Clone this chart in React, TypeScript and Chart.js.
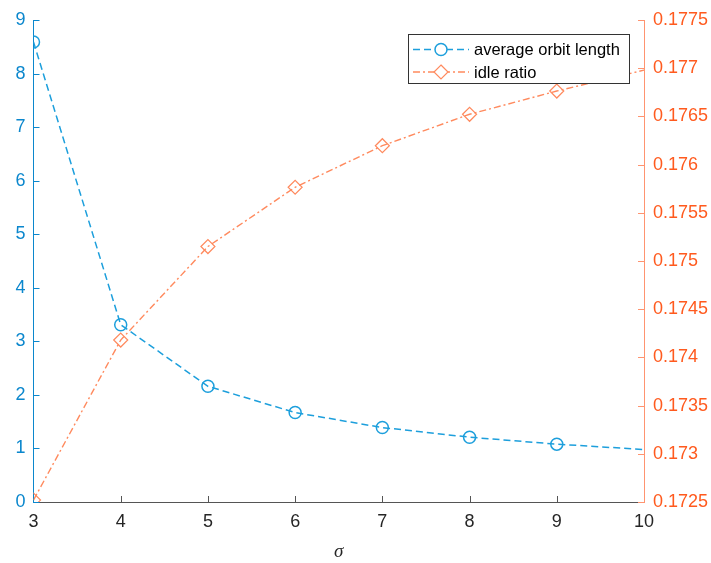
import React, { useEffect, useRef } from "react";
import { Chart, registerables } from "chart.js";

Chart.register(...registerables);

const sigmaValues = [3, 4, 5, 6, 7, 8, 9, 11];
const avgOrbitLength = [8.59, 3.31, 2.16, 1.67, 1.39, 1.21, 1.08, 0.88];
const idleRatio = [0.17252, 0.17418, 0.17515, 0.175765, 0.176196, 0.176522, 0.176763, 0.177197];
const leftTicks = [0, 1, 2, 3, 4, 5, 6, 7, 8, 9];
const rightTicks = [0.1725, 0.173, 0.1735, 0.174, 0.1745, 0.175, 0.1755, 0.176, 0.1765, 0.177, 0.1775];
const xTicks = [3, 4, 5, 6, 7, 8, 9, 10];
const seriesNames = ["average orbit length", "idle ratio"];
const xTitle = "σ";

const BLUE_AXIS = "#0b87cd";
const BLUE_LINE = "#1d9fdc";
const ORANGE_TEXT = "#ff5a1e";
const ORANGE_AXIS = "#ff9470";
const ORANGE_LINE = "#ff8a5e";
const FONT = "'Liberation Sans', Arial, Helvetica, sans-serif";

const innerTicks = {
  id: "innerTicks",
  afterDatasetsDraw(chart: any) {
    const { ctx, chartArea } = chart;
    const sx = chart.scales.x;
    const sy = chart.scales.y;
    const sy1 = chart.scales.y1;
    const L = 6;
    ctx.save();
    ctx.lineWidth = 1;
    ctx.strokeStyle = BLUE_AXIS;
    sy.ticks.forEach((t: any) => {
      const y = Math.round(sy.getPixelForValue(t.value)) + 0.5;
      ctx.beginPath();
      ctx.moveTo(chartArea.left, y);
      ctx.lineTo(chartArea.left + L, y);
      ctx.stroke();
    });
    ctx.strokeStyle = ORANGE_AXIS;
    sy1.ticks.forEach((t: any) => {
      const y = Math.round(sy1.getPixelForValue(t.value)) + 0.5;
      ctx.beginPath();
      ctx.moveTo(chartArea.right - L, y);
      ctx.lineTo(chartArea.right, y);
      ctx.stroke();
    });
    ctx.strokeStyle = "#555555";
    sx.ticks.forEach((t: any) => {
      const x = Math.round(sx.getPixelForValue(t.value)) + 0.5;
      if (x < chartArea.left + 2 || x > chartArea.right - 2) return;
      ctx.beginPath();
      ctx.moveTo(x, chartArea.bottom);
      ctx.lineTo(x, chartArea.bottom - L);
      ctx.stroke();
    });
    ctx.restore();
  },
};

const customLegend = {
  id: "customLegend",
  afterDraw(chart: any) {
    const { ctx } = chart;
    const bx = 408.5, by = 34.5, bw = 221, bh = 49;
    ctx.save();
    ctx.fillStyle = "#ffffff";
    ctx.fillRect(bx, by, bw, bh);
    ctx.strokeStyle = "#333333";
    ctx.lineWidth = 1;
    ctx.strokeRect(bx, by, bw, bh);
    const rows = [49.5, 72];
    chart.data.datasets.forEach((ds: any, i: number) => {
      const y = rows[i];
      ctx.strokeStyle = ds.borderColor;
      ctx.lineWidth = ds.borderWidth;
      ctx.setLineDash(ds.borderDash);
      ctx.beginPath();
      ctx.moveTo(413, y);
      ctx.lineTo(469, y);
      ctx.stroke();
      ctx.setLineDash([]);
      ctx.fillStyle = "#ffffff";
      ctx.strokeStyle = ds.pointBorderColor;
      ctx.lineWidth = ds.pointBorderWidth;
      ctx.beginPath();
      if (ds.pointStyle === "circle") {
        ctx.arc(441, y, ds.pointRadius, 0, Math.PI * 2);
      } else {
        const r = ds.pointRadius;
        ctx.moveTo(441, y - r);
        ctx.lineTo(441 + r, y);
        ctx.lineTo(441, y + r);
        ctx.lineTo(441 - r, y);
        ctx.closePath();
      }
      ctx.fill();
      ctx.stroke();
      ctx.fillStyle = "#000000";
      ctx.font = `16.5px ${FONT}`;
      ctx.textBaseline = "middle";
      ctx.textAlign = "left";
      ctx.fillText(ds.label, 474, y + 1);
    });
    ctx.restore();
  },
};

export default function App() {
  const ref = useRef<HTMLCanvasElement | null>(null);
  useEffect(() => {
    if (!ref.current) return;
    const chart = new Chart(ref.current, {
      type: "line",
      data: {
        datasets: [
          {
            label: seriesNames[0],
            data: sigmaValues.map((x, i) => ({ x, y: avgOrbitLength[i] })),
            yAxisID: "y",
            borderColor: BLUE_LINE,
            borderWidth: 1.5,
            borderDash: [7, 4],
            pointStyle: "circle",
            pointRadius: 6,
            pointBorderColor: BLUE_LINE,
            pointBackgroundColor: "rgba(255,255,255,0)",
            pointBorderWidth: 1.5,
            clip: 0,
          } as any,
          {
            label: seriesNames[1],
            data: sigmaValues.map((x, i) => ({ x, y: idleRatio[i] })),
            yAxisID: "y1",
            borderColor: ORANGE_LINE,
            borderWidth: 1.4,
            borderDash: [7, 3, 2, 3],
            pointStyle: "rectRot",
            pointRadius: 7,
            pointBorderColor: ORANGE_LINE,
            pointBackgroundColor: "rgba(255,255,255,0)",
            pointBorderWidth: 1.2,
            clip: 0,
          } as any,
        ],
      },
      options: {
        animation: false,
        responsive: false,
        maintainAspectRatio: false,
        layout: { padding: { top: 20, left: 0, right: 0, bottom: 0 } },
        plugins: { legend: { display: false }, tooltip: { enabled: false } },
        scales: {
          x: {
            type: "linear",
            min: 3,
            max: 10,
            afterBuildTicks: (s: any) => {
              s.ticks = xTicks.map((v) => ({ value: v }));
            },
            afterFit: (s: any) => {
              s.height = 61;
            },
            grid: { display: false, drawTicks: false },
            border: { display: true, color: "#555555", width: 1 },
            ticks: {
              color: "#262626",
              font: { family: FONT, size: 18 },
              padding: 9,
              maxRotation: 0,
            },
            title: {
              display: true,
              text: xTitle,
              color: "#262626",
              font: { family: "'Liberation Serif', 'DejaVu Serif', serif", size: 19, style: "italic" },
              padding: { top: 0, bottom: 0 },
            },
          },
          y: {
            type: "linear",
            position: "left",
            min: 0,
            max: 9,
            afterBuildTicks: (s: any) => {
              s.ticks = leftTicks.map((v) => ({ value: v }));
            },
            afterFit: (s: any) => {
              s.width = 33.5;
            },
            grid: { display: false, drawTicks: false },
            border: { display: true, color: BLUE_AXIS, width: 1 },
            ticks: {
              color: BLUE_AXIS,
              font: { family: FONT, size: 18 },
              padding: 8,
            },
          },
          y1: {
            type: "linear",
            position: "right",
            min: 0.1725,
            max: 0.1775,
            afterBuildTicks: (s: any) => {
              s.ticks = rightTicks.map((v) => ({ value: v }));
            },
            afterFit: (s: any) => {
              s.width = 67;
            },
            grid: { display: false, drawTicks: false },
            border: { display: true, color: ORANGE_AXIS, width: 1 },
            ticks: {
              color: ORANGE_TEXT,
              font: { family: FONT, size: 18 },
              padding: 9,
              callback: (v: any) => String(v),
            },
          },
        },
      },
      plugins: [innerTicks, customLegend],
    });
    return () => chart.destroy();
  }, []);
  return (
    <div style={{ position: "fixed", left: 0, top: 0, width: 711, height: 563, background: "#fff" }}>
      <canvas ref={ref} width={711} height={563} style={{ width: 711, height: 563, display: "block" }} />
    </div>
  );
}
